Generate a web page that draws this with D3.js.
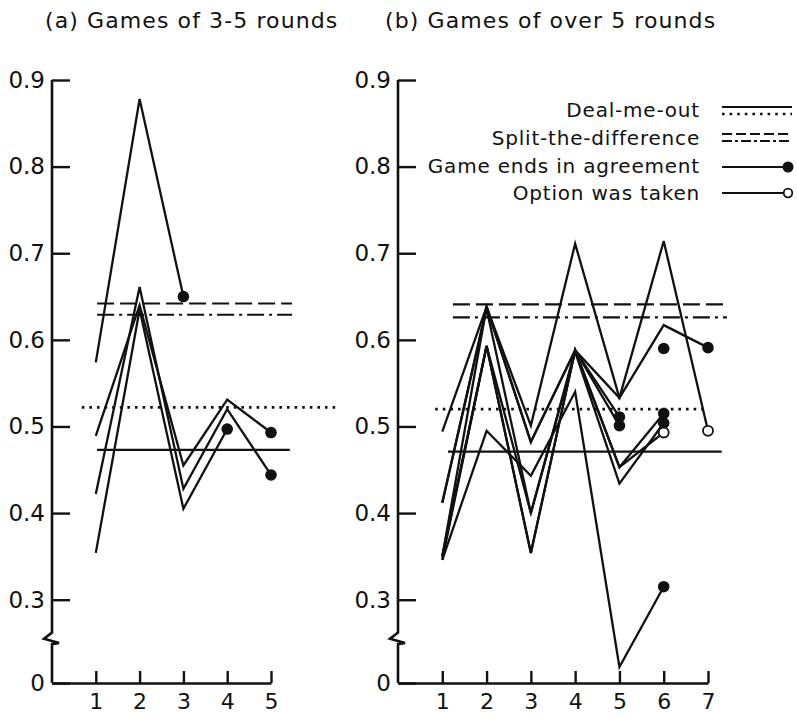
<!DOCTYPE html>
<html><head><meta charset="utf-8">
<script src="https://cdn.jsdelivr.net/npm/d3@7"></script>
<style>html,body{margin:0;padding:0;background:#fff}</style>
</head><body>
<svg id="chart" width="797" height="719"></svg>
<script>
// ---------------- data ----------------
const panelTitles = ["(a) Games of 3-5 rounds", "(b) Games of over 5 rounds"];
const yTickValues = [0, 0.3, 0.4, 0.5, 0.6, 0.7, 0.8, 0.9];
const yTickLabels = ["0", "0.3", "0.4", "0.5", "0.6", "0.7", "0.8", "0.9"];
const roundsA = [1, 2, 3, 4, 5];
const roundsB = [1, 2, 3, 4, 5, 6, 7];
const legendLabels = ["Deal-me-out", "Split-the-difference", "Game ends in agreement", "Option was taken"];

// theoretical reference levels: [first line, second line]
const dealMeOutA = [0.473, 0.522];      // solid, dotted
const splitDiffA = [0.642, 0.629];      // dashed, dash-dot
const dealMeOutB = [0.471, 0.520];
const splitDiffB = [0.641, 0.626];

// panel (a) games: value per round, null = not played
const gamesA = [
  [0.574, 0.878, 0.650],
  [0.489, 0.640, 0.455, 0.531, 0.493],
  [0.422, 0.661, 0.428, 0.520, 0.444],
  [0.354, 0.635, 0.405, 0.497]
];
const endsA = ["agree", "agree", "agree", "agree"];

// panel (b) games
const gamesB = [
  [0.494, 0.638, 0.501, 0.711, 0.533, 0.617, 0.591],
  [0.412, 0.638, 0.482, 0.588, 0.533, 0.714, 0.495],
  [0.350, 0.638, 0.482, 0.588, 0.511],
  [0.412, 0.636, 0.400, 0.588, 0.501],
  [0.350, 0.593, 0.354, 0.588, 0.453, 0.515],
  [0.346, 0.593, 0.400, 0.586, 0.434, 0.504],
  [0.350, 0.593, 0.354, 0.588, 0.453, 0.493],
  [0.346, 0.495, 0.443, 0.540, 0.100, 0.315],
  [null, null, null, null, null, 0.590]
];
const endsB = ["agree", "option", "agree", "agree", "agree", "agree", "option", "agree", "agree"];

// ---------------- layout ----------------
const svg = d3.select("#chart");
const FONT = "DejaVu Sans, Liberation Sans, sans-serif";
const yBottom = 683, yTop = 80;

const y = d3.scaleLinear().domain([0, 0.25, 0.9]).range([yBottom, 643, yTop]);

const panels = [
  {title: panelTitles[0], titleX: 45, x: d3.scaleLinear().domain([0, 5]).range([52, 271]),
   rounds: roundsA, games: gamesA, ends: endsA, dmo: dealMeOutA, std: splitDiffA,
   ext: {dash: [1.03, 5.48], dot: [0.68, 6.53], solid: [1.03, 5.43]}},
  {title: panelTitles[1], titleX: 385, x: d3.scaleLinear().domain([0, 7]).range([398, 708]),
   rounds: roundsB, games: gamesB, ends: endsB, dmo: dealMeOutB, std: splitDiffB,
   ext: {dash: [1.24, 7.43], dot: [0.84, 7.0], solid: [1.13, 7.31]}}
];

const dashStyles = {solid: null, dotted: "2.6,5", dashed: "17,6", dashdot: "17,5,3,5"};

panels.forEach(p => {
  const g = svg.append("g");
  const x = p.x;
  const x0 = x.range()[0];

  // title
  g.append("text").attr("x", p.titleX).attr("y", 28)
    .attr("font-family", FONT).attr("font-size", 22).attr("letter-spacing", 1.1).attr("fill", "#111")
    .text(p.title);

  // y axis (ticks pointing inwards)
  const yAxis = d3.axisLeft(y).tickValues(yTickValues)
    .tickFormat((d, i) => yTickLabels[i]).tickSizeInner(-18).tickSizeOuter(0).tickPadding(7);
  const ga = g.append("g").attr("transform", `translate(${x0},0)`).call(yAxis);
  ga.select(".domain").remove();
  ga.selectAll(".tick line").attr("stroke", "#111").attr("stroke-width", 2.4);
  ga.selectAll(".tick text").attr("font-family", FONT).attr("font-size", 23).attr("fill", "#111");

  // y axis line with break
  const brk = [[0, 0.9], [0, 0.262], [-8, 0.255], [7, 0.25], [0, 0.243], [0, 0]];
  g.append("path")
    .attr("d", d3.line().x(d => x0 + d[0]).y(d => y(d[1]))(brk))
    .attr("fill", "none").attr("stroke", "#111").attr("stroke-width", 2.6);

  // x axis (ticks pointing up)
  const xAxis = d3.axisBottom(x).tickValues(p.rounds).tickFormat(d3.format("d"))
    .tickSizeInner(-12).tickSizeOuter(0).tickPadding(10);
  const gx = g.append("g").attr("transform", `translate(0,${yBottom})`).call(xAxis);
  gx.select(".domain").attr("stroke", "#111").attr("stroke-width", 2.6);
  gx.selectAll(".tick line").attr("stroke", "#111").attr("stroke-width", 2.4);
  gx.selectAll(".tick text").attr("font-family", FONT).attr("font-size", 22).attr("fill", "#111");

  // reference lines
  const refs = [
    {v: p.std[0], style: "dashed", e: p.ext.dash},
    {v: p.std[1], style: "dashdot", e: p.ext.dash},
    {v: p.dmo[1], style: "dotted", e: p.ext.dot},
    {v: p.dmo[0], style: "solid", e: p.ext.solid}
  ];
  g.selectAll("line.ref").data(refs).join("line").attr("class", "ref")
    .attr("x1", d => x(d.e[0])).attr("x2", d => x(d.e[1]))
    .attr("y1", d => y(d.v)).attr("y2", d => y(d.v))
    .attr("stroke", "#111")
    .attr("stroke-width", d => d.style === "dotted" ? 2.8 : 2.1)
    .attr("stroke-dasharray", d => dashStyles[d.style]);

  // game lines
  const line = d3.line().defined(d => d != null).x((d, i) => x(i + 1)).y(d => y(d));
  g.selectAll("path.game").data(p.games).join("path").attr("class", "game")
    .attr("d", d => line(d))
    .attr("fill", "none").attr("stroke", "#111").attr("stroke-width", 2.3)
    .attr("stroke-linejoin", "miter");

  // end markers
  const endPts = p.games.map((gm, k) => {
    const i = gm.length - 1;
    return {x: x(i + 1), y: y(gm[i]), type: p.ends[k]};
  });
  g.selectAll("circle.end").data(endPts).join("circle").attr("class", "end")
    .attr("cx", d => d.x).attr("cy", d => d.y)
    .attr("r", d => d.type === "agree" ? 5.8 : 5)
    .attr("fill", d => d.type === "agree" ? "#111" : "#fff")
    .attr("stroke", "#111").attr("stroke-width", d => d.type === "agree" ? 0 : 1.8);
});

// ---------------- legend ----------------
const lg = svg.append("g");
const lgTextX = 700, lgBase = [117, 145, 173, 200];
lg.selectAll("text").data(legendLabels).join("text")
  .attr("x", lgTextX).attr("y", (d, i) => lgBase[i])
  .attr("text-anchor", "end").attr("font-family", FONT).attr("font-size", 20)
  .attr("letter-spacing", 0.8).attr("fill", "#111")
  .text(d => d);
const sx0 = 722, sx1 = 792;
const lgLines = [
  {row: 0, dy: -10, style: "solid"}, {row: 0, dy: -3, style: "dotted"},
  {row: 1, dy: -11, style: "dashed"}, {row: 1, dy: -4, style: "dashdot"},
  {row: 2, dy: -6, style: "solid", x1: 786}, {row: 3, dy: -7, style: "solid", x1: 783}
];
lg.selectAll("line").data(lgLines).join("line")
  .attr("x1", sx0).attr("x2", d => d.x1 || sx1)
  .attr("y1", d => lgBase[d.row] + d.dy).attr("y2", d => lgBase[d.row] + d.dy)
  .attr("stroke", "#111").attr("stroke-width", d => d.style === "dotted" ? 2.6 : 2)
  .attr("stroke-dasharray", d => d.style === "dashed" ? "10,4" : d.style === "dashdot" ? "10,3,3,3" : dashStyles[d.style]);
lg.append("circle").attr("cx", 788).attr("cy", lgBase[2] - 6).attr("r", 5.5).attr("fill", "#111");
lg.append("circle").attr("cx", 788).attr("cy", lgBase[3] - 7).attr("r", 4.3)
  .attr("fill", "#fff").attr("stroke", "#111").attr("stroke-width", 1.8);
</script>
</body></html>
